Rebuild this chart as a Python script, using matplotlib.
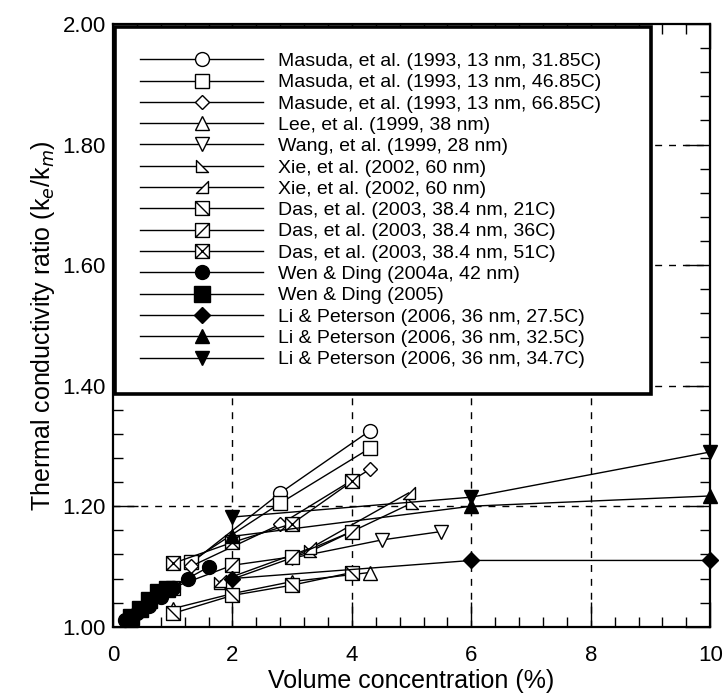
import matplotlib
matplotlib.use("Agg")
import matplotlib.pyplot as plt
from matplotlib.path import Path
from matplotlib.ticker import MultipleLocator, FormatStrFormatter

plt.rcParams['font.family'] = ['Liberation Sans', 'DejaVu Sans']

# volume concentration (%) and k_eff/k_m for each data set
masuda_32_x = [1.3, 2.8, 4.3]
masuda_32_y = [1.105, 1.222, 1.325]
masuda_47_x = [1.3, 2.8, 4.3]
masuda_47_y = [1.108, 1.205, 1.296]
masuda_67_x = [1.3, 2.8, 4.3]
masuda_67_y = [1.100, 1.170, 1.261]
lee_x = [1.0, 2.0, 3.0, 4.3]
lee_y = [1.030, 1.055, 1.075, 1.090]
wang_x = [3.0, 4.5, 5.5]
wang_y = [1.114, 1.144, 1.158]
xie1_x = [1.8, 3.3, 5.0]
xie1_y = [1.072, 1.125, 1.205]
xie2_x = [1.8, 3.3, 4.95]
xie2_y = [1.076, 1.130, 1.222]
das21_x = [1.0, 2.0, 3.0, 4.0]
das21_y = [1.022, 1.052, 1.069, 1.090]
das36_x = [1.0, 2.0, 3.0, 4.0]
das36_y = [1.065, 1.102, 1.116, 1.158]
das51_x = [1.0, 2.0, 3.0, 4.0]
das51_y = [1.105, 1.140, 1.171, 1.241]
wen04_x = [0.2, 0.4, 0.6, 0.8, 1.0, 1.25, 1.6]
wen04_y = [1.012, 1.022, 1.035, 1.050, 1.065, 1.080, 1.099]
wen05_x = [0.3, 0.45, 0.6, 0.75, 0.9]
wen05_y = [1.016, 1.030, 1.045, 1.057, 1.063]
li275_x = [2.0, 6.0, 10.0]
li275_y = [1.080, 1.110, 1.110]
li325_x = [2.0, 6.0, 10.0]
li325_y = [1.150, 1.200, 1.217]
li347_x = [2.0, 6.0, 10.0]
li347_y = [1.182, 1.215, 1.290]

labels = [
    "Masuda, et al. (1993, 13 nm, 31.85C)",
    "Masuda, et al. (1993, 13 nm, 46.85C)",
    "Masude, et al. (1993, 13 nm, 66.85C)",
    "Lee, et al. (1999, 38 nm)",
    "Wang, et al. (1999, 28 nm)",
    "Xie, et al. (2002, 60 nm)",
    "Xie, et al. (2002, 60 nm)",
    "Das, et al. (2003, 38.4 nm, 21C)",
    "Das, et al. (2003, 38.4 nm, 36C)",
    "Das, et al. (2003, 38.4 nm, 51C)",
    "Wen & Ding (2004a, 42 nm)",
    "Wen & Ding (2005)",
    "Li & Peterson (2006, 36 nm, 27.5C)",
    "Li & Peterson (2006, 36 nm, 32.5C)",
    "Li & Peterson (2006, 36 nm, 34.7C)",
]

M, L, C = Path.MOVETO, Path.LINETO, Path.CLOSEPOLY


def box_marker(diag):
    # open square with one or two diagonals inside
    verts = [(-1, -1), (1, -1), (1, 1), (-1, 1), (-1, -1)]
    codes = [M, L, L, L, C]
    if 'back' in diag:
        verts += [(-1, 1), (1, -1)]
        codes += [M, L]
    if 'fwd' in diag:
        verts += [(-1, -1), (1, 1)]
        codes += [M, L]
    return Path(verts, codes)


tri_left = Path([(-1, 1), (-1, -1), (1, -1), (-1, 1)], [M, L, L, C])
tri_right = Path([(1, 1), (1, -1), (-1, -1), (1, 1)], [M, L, L, C])

series = [
    (masuda_32_x, masuda_32_y, 'o', 'white', 10),
    (masuda_47_x, masuda_47_y, 's', 'white', 10),
    (masuda_67_x, masuda_67_y, 'D', 'white', 7),
    (lee_x, lee_y, '^', 'white', 10),
    (wang_x, wang_y, 'v', 'white', 10),
    (xie1_x, xie1_y, tri_left, 'white', 9),
    (xie2_x, xie2_y, tri_right, 'white', 9),
    (das21_x, das21_y, box_marker('back'), 'white', 10),
    (das36_x, das36_y, box_marker('fwd'), 'white', 10),
    (das51_x, das51_y, box_marker('back fwd'), 'white', 10),
    (wen04_x, wen04_y, 'o', 'black', 10),
    (wen05_x, wen05_y, 's', 'black', 11),
    (li275_x, li275_y, 'D', 'black', 8),
    (li325_x, li325_y, '^', 'black', 10),
    (li347_x, li347_y, 'v', 'black', 10),
]

fig = plt.figure(figsize=(7.24, 6.96), dpi=100)
ax = fig.add_axes([0.156, 0.0995, 0.825, 0.866])

for (xs, ys, mk, fc, ms), lab in zip(series, labels):
    ax.plot(xs, ys, color='black', linewidth=1.0, marker=mk, markersize=ms,
            markerfacecolor=fc, markeredgecolor='black', markeredgewidth=1.0,
            label=lab, clip_on=False, zorder=3)

ax.set_xlim(0, 10)
ax.set_ylim(1.0, 2.0)
ax.xaxis.set_major_locator(MultipleLocator(2))
ax.xaxis.set_minor_locator(MultipleLocator(0.4))
ax.yaxis.set_major_locator(MultipleLocator(0.2))
ax.yaxis.set_minor_locator(MultipleLocator(0.04))
ax.yaxis.set_major_formatter(FormatStrFormatter('%.2f'))

ax.tick_params(which='both', direction='in', top=True, right=True, width=1.0)
ax.tick_params(which='major', length=18, labelsize=16)
ax.tick_params(axis='x', which='major', pad=13)
ax.tick_params(axis='y', which='major', pad=5)
ax.tick_params(which='minor', length=7)
for sp in ax.spines.values():
    sp.set_linewidth(1.6)

# dashed reference lines at the inner major ticks
for gx in [2, 4, 6, 8]:
    ax.axvline(gx, color='black', linewidth=1.0, linestyle=(0, (5, 5)), zorder=1)
for gy in [1.2, 1.4, 1.6, 1.8]:
    ax.axhline(gy, color='black', linewidth=1.0, linestyle=(0, (5, 5)), zorder=1)

ax.set_xlabel('Volume concentration (%)', fontsize=18, labelpad=2)
ax.set_ylabel('Thermal conductivity ratio (k$_e$/k$_m$)', fontsize=18, labelpad=4)

leg = ax.legend(loc='upper left', bbox_to_anchor=(0.159, 0.4425, 0.740, 0.5185),
                bbox_transform=fig.transFigure, mode='expand', fontsize=14,
                frameon=True, fancybox=False, edgecolor='black', framealpha=1,
                handlelength=6.3, handletextpad=0.77, labelspacing=0.19,
                borderpad=1.3, borderaxespad=0, numpoints=1)
leg.get_frame().set_linewidth(2.6)
leg.set_zorder(5)

fig.savefig('out.png', dpi=100)
